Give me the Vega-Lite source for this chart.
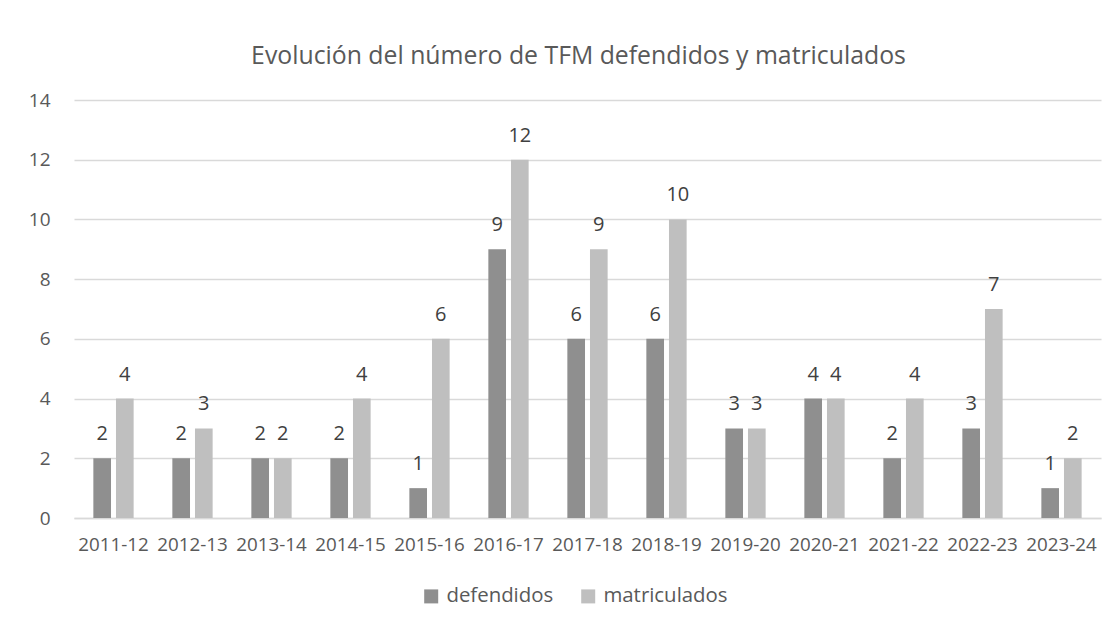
{
  "$schema": "https://vega.github.io/schema/vega-lite/v6.json",
  "autosize": {"type": "none"},
  "padding": {"left": 74, "top": 100, "right": 14, "bottom": 108},
  "width": 1027,
  "height": 418,
  "background": "white",
  "title": {
    "text": "Evolución del número de TFM defendidos y matriculados",
    "font": "Open Sans",
    "fontSize": 24.8,
    "fontWeight": "normal",
    "color": "#595959",
    "offset": 22,
    "dx": -9
  },
  "data": {
    "values": [
      {"curso": "2011-12", "serie": "defendidos", "valor": 2},
      {"curso": "2011-12", "serie": "matriculados", "valor": 4},
      {"curso": "2012-13", "serie": "defendidos", "valor": 2},
      {"curso": "2012-13", "serie": "matriculados", "valor": 3},
      {"curso": "2013-14", "serie": "defendidos", "valor": 2},
      {"curso": "2013-14", "serie": "matriculados", "valor": 2},
      {"curso": "2014-15", "serie": "defendidos", "valor": 2},
      {"curso": "2014-15", "serie": "matriculados", "valor": 4},
      {"curso": "2015-16", "serie": "defendidos", "valor": 1},
      {"curso": "2015-16", "serie": "matriculados", "valor": 6},
      {"curso": "2016-17", "serie": "defendidos", "valor": 9},
      {"curso": "2016-17", "serie": "matriculados", "valor": 12},
      {"curso": "2017-18", "serie": "defendidos", "valor": 6},
      {"curso": "2017-18", "serie": "matriculados", "valor": 9},
      {"curso": "2018-19", "serie": "defendidos", "valor": 6},
      {"curso": "2018-19", "serie": "matriculados", "valor": 10},
      {"curso": "2019-20", "serie": "defendidos", "valor": 3},
      {"curso": "2019-20", "serie": "matriculados", "valor": 3},
      {"curso": "2020-21", "serie": "defendidos", "valor": 4},
      {"curso": "2020-21", "serie": "matriculados", "valor": 4},
      {"curso": "2021-22", "serie": "defendidos", "valor": 2},
      {"curso": "2021-22", "serie": "matriculados", "valor": 4},
      {"curso": "2022-23", "serie": "defendidos", "valor": 3},
      {"curso": "2022-23", "serie": "matriculados", "valor": 7},
      {"curso": "2023-24", "serie": "defendidos", "valor": 1},
      {"curso": "2023-24", "serie": "matriculados", "valor": 2}
    ]
  },
  "encoding": {
    "x": {
      "field": "curso",
      "type": "nominal",
      "scale": {"paddingInner": 0.49, "paddingOuter": 0.245},
      "axis": {
        "title": null,
        "labelAngle": 0,
        "ticks": false,
        "domainColor": "#d9d9d9",
        "domainWidth": 1.5,
        "labelFont": "Open Sans",
        "labelFontSize": 18.8,
        "labelColor": "#595959",
        "labelPadding": 17
      }
    },
    "xOffset": {
      "field": "serie",
      "type": "nominal",
      "scale": {"paddingInner": 0.22}
    },
    "y": {
      "field": "valor",
      "type": "quantitative",
      "scale": {"domain": [0, 14]},
      "axis": {
        "title": null,
        "values": [0, 2, 4, 6, 8, 10, 12, 14],
        "domain": false,
        "ticks": false,
        "gridColor": "#d9d9d9",
        "gridWidth": 1.5,
        "labelFont": "Open Sans",
        "labelFontSize": 19,
        "labelColor": "#595959",
        "labelPadding": 24
      }
    }
  },
  "layer": [
    {
      "mark": {"type": "bar"},
      "encoding": {
        "color": {
          "field": "serie",
          "type": "nominal",
          "scale": {"domain": ["defendidos", "matriculados"], "range": ["#8f8f8f", "#bfbfbf"]},
          "legend": {
            "title": null,
            "orient": "none",
            "direction": "horizontal",
            "legendX": 347,
            "legendY": 486,
            "symbolType": "square",
            "symbolSize": 196,
            "symbolStrokeWidth": 0,
            "labelFont": "Open Sans",
            "labelFontSize": 20.4,
            "labelColor": "#595959",
            "labelOffset": 5,
            "columnPadding": 24
          }
        }
      }
    },
    {
      "mark": {
        "type": "text",
        "baseline": "alphabetic",
        "dy": -18,
        "font": "Open Sans",
        "fontSize": 20,
        "color": "#404040"
      },
      "encoding": {
        "text": {"field": "valor", "type": "quantitative"}
      }
    }
  ],
  "config": {
    "view": {"stroke": null}
  }
}
